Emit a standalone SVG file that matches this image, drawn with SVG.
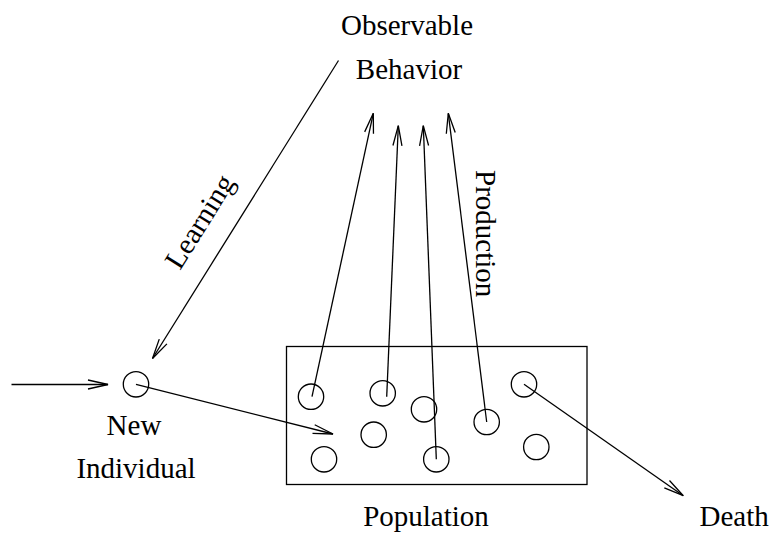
<svg xmlns="http://www.w3.org/2000/svg" width="771" height="540" viewBox="0 0 771 540">
<style>
.t{font-family:"Liberation Serif","Times New Roman",serif;font-size:29px;fill:#000}
.ln{stroke:#000;stroke-width:1.3;fill:none}
.c{stroke:#000;stroke-width:1.3;fill:none}
</style>
<defs>
<marker id="arr" viewBox="-22 -6 24 12" refX="0" refY="0" markerWidth="24" markerHeight="12" markerUnits="userSpaceOnUse" orient="auto" overflow="visible">
<path d="M-20,-4.5 L0,0 L-20,4.5" fill="none" stroke="#000" stroke-width="1.3"/>
</marker>
</defs>
<rect width="771" height="540" fill="#fff"/>
<g id="connectors">
<line class="ln" x1="338.5" y1="60.5" x2="152.5" y2="358.5" marker-end="url(#arr)"/>
<line class="ln" x1="11.5" y1="384.5" x2="108" y2="384.5" marker-end="url(#arr)"/>
<line class="ln" x1="136" y1="384.3" x2="333" y2="434" marker-end="url(#arr)"/>
<line class="ln" x1="312" y1="396.7" x2="373.3" y2="113.3" marker-end="url(#arr)"/>
<line class="ln" x1="386.7" y1="396.7" x2="398.3" y2="125.7" marker-end="url(#arr)"/>
<line class="ln" x1="436.3" y1="459.3" x2="423.3" y2="125.7" marker-end="url(#arr)"/>
<line class="ln" x1="486.7" y1="422" x2="448.3" y2="113.3" marker-end="url(#arr)"/>
<line class="ln" x1="524" y1="384.3" x2="683.3" y2="495.7" marker-end="url(#arr)"/>
</g>
<g id="behavior">
<text class="t" x="407" y="35" text-anchor="middle">Observable</text>
<text class="t" x="409" y="79" text-anchor="middle">Behavior</text>
</g>
<g id="learning-label">
<text class="t" transform="translate(180,271) rotate(-58)">Learning</text>
</g>
<g id="production-label">
<text class="t" transform="translate(476,170) rotate(90)">Production</text>
</g>
<g id="new-individual">
<circle class="c" cx="136" cy="384.3" r="12.7"/>
<text class="t" x="134" y="435" text-anchor="middle">New</text>
<text class="t" x="136" y="478.3" text-anchor="middle">Individual</text>
</g>
<g id="population">
<rect class="c" x="286.5" y="346.5" width="300.5" height="138"/>
<circle class="c" cx="311" cy="396.7" r="12.7"/>
<circle class="c" cx="382.7" cy="393.3" r="12.7"/>
<circle class="c" cx="424" cy="409.3" r="12.7"/>
<circle class="c" cx="486.7" cy="422" r="12.7"/>
<circle class="c" cx="524" cy="384.3" r="12.7"/>
<circle class="c" cx="373.7" cy="434.7" r="12.7"/>
<circle class="c" cx="324" cy="459.3" r="12.7"/>
<circle class="c" cx="436.3" cy="459.3" r="12.7"/>
<circle class="c" cx="536.3" cy="447" r="12.7"/>
<text class="t" x="426" y="526" text-anchor="middle">Population</text>
</g>
<g id="death">
<text class="t" x="699.5" y="526">Death</text>
</g>
</svg>
